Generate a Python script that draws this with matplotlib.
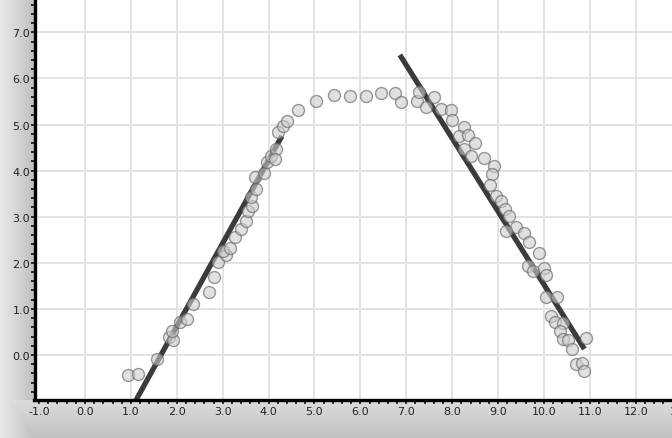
import numpy as np
import matplotlib
matplotlib.use("Agg")
import matplotlib.pyplot as plt
from matplotlib.ticker import MultipleLocator, FormatStrFormatter

# ---- data ----
pts_x = [0.94, 1.15, 1.56, 1.82, 1.92, 1.89, 2.07, 2.22, 2.36, 2.70, 2.80, 2.90,
         3.07, 3.01, 3.16, 3.27, 3.40, 3.51, 3.55, 3.64, 3.62, 3.73, 3.70, 3.90,
         3.97, 4.05, 4.16, 4.14, 4.21, 4.32, 4.41, 4.63, 5.03, 5.43, 5.77, 6.12,
         6.44, 6.75, 6.88, 7.23, 7.28, 7.43, 7.61, 7.75, 7.97, 7.99, 8.26, 8.15,
         8.35, 8.50, 8.26, 8.40, 8.70, 8.90, 8.86, 8.83, 8.95, 9.06, 9.15, 9.24,
         9.39, 9.17, 9.56, 9.67, 9.89, 9.66, 9.77, 9.99, 10.04, 10.04, 10.28,
         10.15, 10.24, 10.41, 10.35, 10.42, 10.53, 10.61, 10.91, 10.69, 10.82,
         10.87]
pts_y = [-0.43, -0.41, -0.09, 0.38, 0.33, 0.53, 0.71, 0.78, 1.11, 1.36, 1.69,
         2.01, 2.17, 2.26, 2.32, 2.56, 2.73, 2.91, 3.12, 3.23, 3.43, 3.60, 3.86,
         3.95, 4.19, 4.32, 4.47, 4.25, 4.83, 4.96, 5.07, 5.32, 5.52, 5.63, 5.61,
         5.61, 5.68, 5.68, 5.48, 5.50, 5.70, 5.37, 5.60, 5.34, 5.32, 5.10, 4.95,
         4.74, 4.78, 4.60, 4.47, 4.32, 4.28, 4.09, 3.92, 3.69, 3.46, 3.33, 3.17,
         3.01, 2.77, 2.70, 2.64, 2.46, 2.21, 1.94, 1.82, 1.89, 1.74, 1.25, 1.25,
         0.85, 0.71, 0.69, 0.53, 0.34, 0.33, 0.13, 0.36, -0.20, -0.17, -0.34]

line1_x = [1.05, 4.29]
line1_y = [-1.09, 4.75]
line2_x = [6.86, 10.88]
line2_y = [6.51, 0.13]

x_ticks = [-1, 0, 1, 2, 3, 4, 5, 6, 7, 8, 9, 10, 11, 12, 13]
y_ticks = [0, 1, 2, 3, 4, 5, 6, 7]

# ---- figure ----
W, H = 672, 439
fig = plt.figure(figsize=(W / 100, H / 100), dpi=100)

# background gradient (left and bottom shaded frame)
bg = np.ones((H, W))
cols = np.arange(W)[None, :].repeat(H, 0).astype(float)
rows = np.arange(H)[:, None].repeat(W, 1).astype(float)
left = 0.91 - 0.16 * np.clip(cols / 34.0, 0, 1)
bottom = 0.86 - 0.11 * np.clip((rows - 401) / 38.0, 0, 1)
bg = np.where(cols < 35, left, bg)
bg = np.where(rows > 400, np.where(cols < 35, np.maximum(left, bottom), bottom), bg)
bgax = fig.add_axes([0, 0, 1, 1], zorder=-10)
bgax.imshow(bg, cmap="gray", vmin=0, vmax=1, aspect="auto", interpolation="bilinear")
bgax.axis("off")

# main axes: pixel mapping
px_per_x = 45.9
px_per_y = 46.1
x0, x1 = -1.10, 13.5
y0, y1 = -0.976, 8.0
ax_left = 34.5
ax_bottom = 38.0
ax = fig.add_axes([ax_left / W, ax_bottom / H,
                   (x1 - x0) * px_per_x / W, (y1 - y0) * px_per_y / H])
ax.set_xlim(x0, x1)
ax.set_ylim(y0, y1)
ax.set_facecolor("white")

# grid lines (no grid at -1)
for v in x_ticks:
    if v >= 0:
        ax.axvline(v, color="#e3e3e3", lw=1.4, zorder=0)
for v in y_ticks:
    ax.axhline(v, color="#e3e3e3", lw=1.4, zorder=0)

# fitted lines
ax.plot(line1_x, line1_y, color="#303030", lw=3.8, solid_capstyle="butt", zorder=2, alpha=0.95)
ax.plot(line2_x, line2_y, color="#303030", lw=3.8, solid_capstyle="butt", zorder=2, alpha=0.95)

# scatter points
ax.scatter(pts_x, pts_y, s=74, facecolor=(0.80, 0.80, 0.80, 0.6),
           edgecolor=(0.40, 0.40, 0.40, 0.65), linewidths=1.0, zorder=3)

# spines
for s in ("top", "right"):
    ax.spines[s].set_visible(False)
for s in ("left", "bottom"):
    ax.spines[s].set_linewidth(2.4)
    ax.spines[s].set_color("black")

ax.set_xticks(x_ticks)
ax.set_yticks(y_ticks)
ax.xaxis.set_major_formatter(FormatStrFormatter("%.1f"))
ax.yaxis.set_major_formatter(FormatStrFormatter("%.1f"))
ax.xaxis.set_minor_locator(MultipleLocator(0.2))
ax.yaxis.set_minor_locator(MultipleLocator(0.2))
ax.tick_params(which="both", direction="out", length=3.2, width=1.1, color="black")
ax.tick_params(axis="x", which="major", pad=1, labelsize=8, labelcolor="#222222")
ax.tick_params(axis="y", which="major", pad=0, labelsize=8, labelcolor="#222222")

fig.savefig("out.png", dpi=100)
